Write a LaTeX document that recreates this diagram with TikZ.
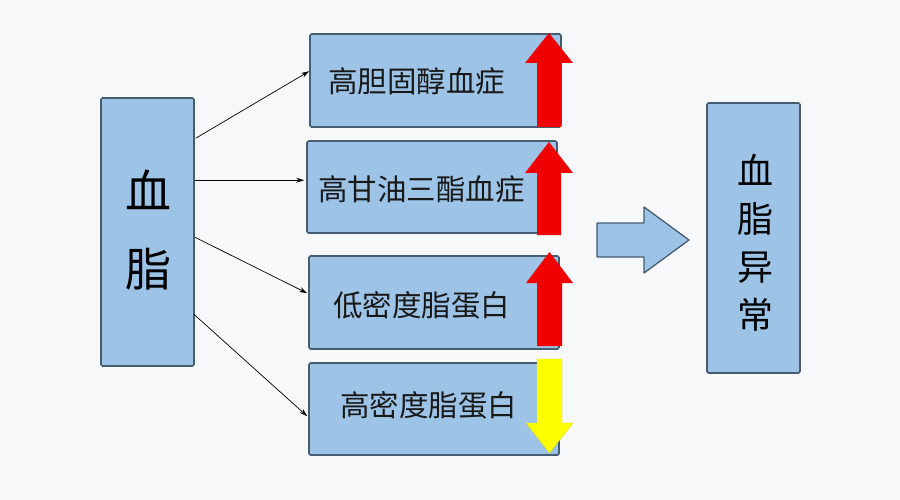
\documentclass[tikz,border=0pt]{standalone}
\usepackage{fontspec}
\newfontfamily\cjk{Noto Sans CJK SC}
\usetikzlibrary{arrows.meta,calc}
\definecolor{bg}{HTML}{F7F8FA}
\definecolor{boxfill}{HTML}{9DC3E6}
\definecolor{boxline}{HTML}{465C70}
\definecolor{upred}{HTML}{F00000}
\definecolor{downyel}{HTML}{FFFF00}
\tikzset{
  box/.style={draw=boxline,fill=boxfill,line width=1.6pt,rounded corners=1.5pt,inner sep=0pt},
  lbl/.style={font=\cjk\fontsize{29.5}{30}\selectfont,text=black!90,inner sep=0pt},
  conn/.style={-{Stealth[length=8pt,width=5pt]},line width=0.7pt,black},
  redarrow/.style={fill=upred,draw=none},
  yelarrow/.style={fill=downyel,draw=downyel!85!black,line width=0.4pt},
  bigarrow/.style={fill=boxfill,draw=boxline,line width=1.3pt,line join=round}
}
\begin{document}
\begin{tikzpicture}[x=1pt,y=-1pt]
\fill[bg] (0,0) rectangle (900,500);
\useasboundingbox (0,0) rectangle (900,500);
% left box
\node[box,minimum width=93pt,minimum height=268pt] (L) at (147.5,232) {};
\node[font=\cjk\fontsize{46}{48}\selectfont,inner sep=0pt,align=center] (Lt) at (148,230) {血\\[30pt]脂};
% right-hand boxes
\node[box,minimum width=251pt,minimum height=93pt] (b1) at (435.5,80.5) {};
\node[box,minimum width=250pt,minimum height=92pt] (b2) at (432,187) {};
\node[box,minimum width=250pt,minimum height=93pt] (b3) at (434,302.5) {};
\node[box,minimum width=250pt,minimum height=92pt] (b4) at (434,409) {};
\node[lbl] (t1) at (416.5,81) {高胆固醇血症};
\node[lbl] (t2) at (421.5,189) {高甘油三酯血症};
\node[lbl] (t3) at (421.5,305) {低密度脂蛋白};
\node[lbl] (t4) at (428.5,405) {高密度脂蛋白};
% up/down block arrows
\fill[redarrow] (537,127) -- (537,63) -- (525,63) -- (549,33) -- (573,63) -- (561,63) -- (561,127) -- cycle;
\fill[redarrow] (537,235) -- (537,173) -- (525,173) -- (549,142) -- (573,173) -- (561,173) -- (561,235) -- cycle;
\fill[redarrow] (537,346) -- (537,283) -- (526,283) -- (549.5,252) -- (573,283) -- (562,283) -- (562,346) -- cycle;
\filldraw[yelarrow] (537,359) -- (562,359) -- (562,423) -- (573,423) -- (549.5,453) -- (526,423) -- (537,423) -- cycle;
% connectors
\draw[conn] ($(L.north east)+(1,41)$) -- ($(b1.north west)+(0,38)$);
\draw[conn] ($(L.north east)+(0,83)$) -- ($(b2.north west)+(-2,40)$);
\draw[conn] ($(L.north east)+(0,140)$) -- ($(b3.north west)+(-1,38)$);
\draw[conn] ($(L.north east)+(-1,217)$) -- ($(b4.north west)+(-1,54)$);
% big arrow
\draw[bigarrow] (597,223) -- (644,223) -- (644,207) -- (689,240) -- (644,273) -- (644,257) -- (597,257) -- cycle;
% result box
\node[box,minimum width=93pt,minimum height=270pt] (R) at (753.5,238) {};
\node[font=\cjk\fontsize{36}{48}\selectfont,inner sep=0pt,align=center] (Rt) at (755,243) {血\\脂\\异\\常};
\end{tikzpicture}
\end{document}
